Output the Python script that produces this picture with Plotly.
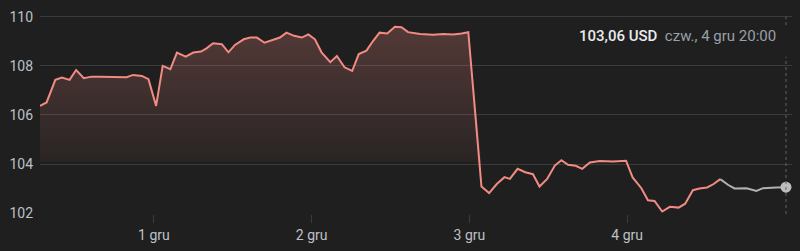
import plotly.graph_objects as go
import pandas as pd

# ---- data ----
times = [
    "2025-11-30 06:40", "2025-11-30 07:40", "2025-11-30 09:00", "2025-11-30 10:00",
    "2025-11-30 11:10", "2025-11-30 12:10", "2025-11-30 13:20", "2025-11-30 14:30",
    "2025-11-30 15:50", "2025-11-30 17:20", "2025-11-30 18:50", "2025-11-30 19:50",
    "2025-11-30 20:50", "2025-11-30 22:10", "2025-11-30 23:10", "2025-12-01 00:20",
    "2025-12-01 01:20", "2025-12-01 02:30", "2025-12-01 03:30", "2025-12-01 04:50",
    "2025-12-01 06:00", "2025-12-01 07:10", "2025-12-01 08:00", "2025-12-01 09:00",
    "2025-12-01 10:20", "2025-12-01 11:20", "2025-12-01 12:20", "2025-12-01 13:40",
    "2025-12-01 14:40", "2025-12-01 15:40", "2025-12-01 16:50", "2025-12-01 18:10",
    "2025-12-01 19:10", "2025-12-01 20:10", "2025-12-01 21:20", "2025-12-01 22:30",
    "2025-12-01 23:30", "2025-12-02 00:30", "2025-12-02 01:30", "2025-12-02 02:50",
    "2025-12-02 03:50", "2025-12-02 05:00", "2025-12-02 06:10", "2025-12-02 07:10",
    "2025-12-02 08:20", "2025-12-02 09:20", "2025-12-02 10:20", "2025-12-02 11:30",
    "2025-12-02 12:40", "2025-12-02 13:40", "2025-12-02 14:40", "2025-12-02 16:30",
    "2025-12-02 18:30", "2025-12-02 20:00", "2025-12-02 21:30", "2025-12-02 22:50",
    "2025-12-02 23:50", "2025-12-03 01:50", "2025-12-03 03:00", "2025-12-03 04:10",
    "2025-12-03 05:20", "2025-12-03 06:10", "2025-12-03 07:20", "2025-12-03 08:30",
    "2025-12-03 09:40", "2025-12-03 10:40", "2025-12-03 11:50", "2025-12-03 13:00",
    "2025-12-03 14:00", "2025-12-03 15:00", "2025-12-03 16:10", "2025-12-03 17:10",
    "2025-12-03 18:20", "2025-12-03 19:50", "2025-12-03 21:50", "2025-12-03 23:50",
    "2025-12-04 00:50", "2025-12-04 02:10", "2025-12-04 03:10", "2025-12-04 04:10",
    "2025-12-04 05:20", "2025-12-04 06:30", "2025-12-04 07:50", "2025-12-04 08:50",
    "2025-12-04 10:00", "2025-12-04 11:00", "2025-12-04 12:10", "2025-12-04 13:10",
    "2025-12-04 14:10", "2025-12-04 15:20", "2025-12-04 16:20", "2025-12-04 18:10",
    "2025-12-04 19:40", "2025-12-04 20:40", "2025-12-04 22:40", "2025-12-05 00:10",
]
prices = [
    106.37, 106.51, 107.43, 107.52, 107.43, 107.83, 107.50, 107.56,
    107.56, 107.55, 107.55, 107.54, 107.63, 107.59, 107.46, 106.37,
    108.00, 107.86, 108.54, 108.37, 108.54, 108.58, 108.71, 108.92,
    108.88, 108.55, 108.85, 109.08, 109.15, 109.15, 108.94, 109.05,
    109.15, 109.35, 109.22, 109.15, 109.28, 109.08, 108.55, 108.15,
    108.40, 107.94, 107.79, 108.48, 108.62, 109.01, 109.35, 109.32,
    109.59, 109.57, 109.37, 109.30, 109.26, 109.30, 109.28, 109.32,
    109.37, 103.09, 102.82, 103.19, 103.47, 103.40, 103.81, 103.67,
    103.59, 103.09, 103.40, 103.94, 104.16, 103.97, 103.93, 103.81,
    104.07, 104.13, 104.11, 104.14, 103.46, 103.02, 102.53, 102.50,
    102.07, 102.26, 102.23, 102.39, 102.94, 103.01, 103.05, 103.19,
    103.39, 103.16, 103.01, 103.02, 102.91, 103.02, 103.05, 103.06,
]
prev_close = 104.1
session_split = 88          # index where the grey (after-hours) part starts
day_ticks = ["2025-12-01", "2025-12-02", "2025-12-03", "2025-12-04"]
day_labels = ["1 gru", "2 gru", "3 gru", "4 gru"]
y_ticks = [102, 104, 106, 108, 110]
hover_label = "czw., 4 gru 20:00"
currency = "USD"

# ---- styles ----
BG = "#1f1f1f"
GRID = "#3b3b3b"
PINK = "#f28b82"
GREY = "#aeb1b5"
TXT = "#bdc1c6"

t = pd.to_datetime(times)
fill_top = [max(p, prev_close) for p in prices]

fig = go.Figure()
# baseline for the fill
fig.add_trace(go.Scatter(x=t, y=[prev_close] * len(t), mode="lines",
                         line=dict(width=0, color="rgba(0,0,0,0)"),
                         hoverinfo="skip", showlegend=False))
# gradient fill between price and baseline (only above baseline)
fig.add_trace(go.Scatter(x=t, y=fill_top, mode="lines",
                         line=dict(width=0, color="rgba(0,0,0,0)"),
                         fill="tonexty",
                         fillgradient=dict(type="vertical",
                                           colorscale=[[0, "rgba(242,139,130,0.05)"],
                                                       [1, "rgba(242,139,130,0.26)"]],
                                           start=prev_close, stop=110),
                         hoverinfo="skip", showlegend=False))
# regular session line
fig.add_trace(go.Scatter(x=t[:session_split + 1], y=prices[:session_split + 1],
                         mode="lines", line=dict(color=PINK, width=2),
                         showlegend=False))
# extended session line
fig.add_trace(go.Scatter(x=t[session_split:], y=prices[session_split:],
                         mode="lines", line=dict(color=GREY, width=2),
                         showlegend=False))
# last point marker
fig.add_trace(go.Scatter(x=[t[-1]], y=[prices[-1]], mode="markers",
                         marker=dict(color="#bdbdbd", size=11),
                         showlegend=False))

# dotted hover line
for y0, y1 in [(0, 0.745), (0.895, 0.935)]:
    fig.add_shape(type="line", xref="x", yref="paper",
                  x0=t[-1], x1=t[-1], y0=y0, y1=y1,
                  line=dict(color="#606368", width=1, dash="dot"))

last_txt = f"{prices[-1]:.2f}".replace(".", ",")
fig.add_annotation(xref="paper", yref="paper", x=0.981, y=0.845,
                   xanchor="right", yanchor="middle", showarrow=False,
                   text=(f"<span style='color:#e8eaed;font-weight:500'>{last_txt} {currency}</span>"
                         f"  <span style='color:#9aa0a6'>{hover_label}</span>"),
                   font=dict(family="Roboto", size=15))

x_end = t[-1] + pd.Timedelta(minutes=55)
fig.update_layout(
    width=800, height=251,
    margin=dict(l=40, r=8, t=3, b=37),
    paper_bgcolor=BG, plot_bgcolor=BG,
    font=dict(family="Roboto", size=14, color=TXT),
    xaxis=dict(range=[t[0], x_end], showgrid=False, zeroline=False,
               tickvals=pd.to_datetime(day_ticks), ticktext=day_labels,
               ticks="outside", ticklen=8, tickcolor=GRID, tickwidth=1,
               showline=False, tickfont=dict(size=14, color=TXT)),
    yaxis=dict(range=[101.97, 110.557], tickvals=y_ticks,
               ticktext=[str(v) for v in y_ticks],
               showgrid=True, gridcolor=GRID, gridwidth=1, zeroline=False,
               showline=False, ticks="", ticklabelstandoff=6,
               tickfont=dict(size=14, color=TXT)),
)

fig.write_html("out.html")
